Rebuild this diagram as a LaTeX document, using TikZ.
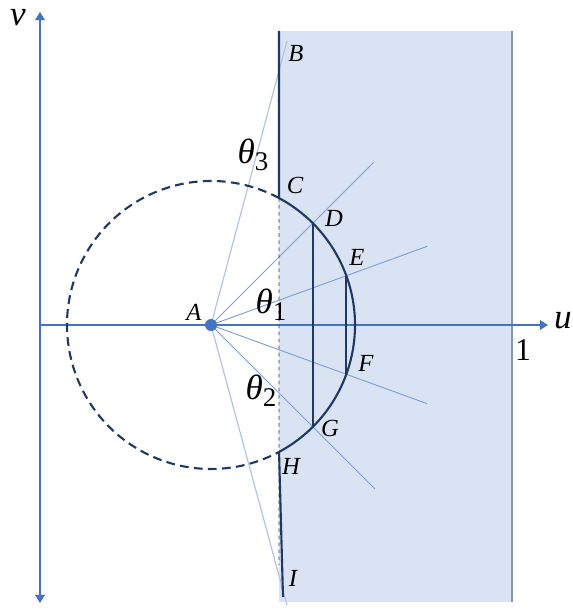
\documentclass[tikz,border=0pt]{standalone}
\usepackage{fontspec}
\setmainfont{Liberation Serif}
\usetikzlibrary{calc, positioning, arrows.meta}

\definecolor{axisblue}{HTML}{4472C4}
\definecolor{navy}{HTML}{1F3864}
\definecolor{raymid}{HTML}{7F9FD8}
\definecolor{raypale}{HTML}{AFC3E6}
\definecolor{stripblue}{HTML}{DAE3F3}
\definecolor{edgegray}{HTML}{8497B0}

\newcommand{\thlab}[1]{{\itshape θ}\raisebox{-0.45ex}{\fontsize{23}{23}\selectfont #1}}

\begin{document}
\begin{tikzpicture}[x=0.03cm, y=0.03cm,
            axis/.style={axisblue, line width=0.9pt},
            tip/.style={-{Triangle[width=8.5pt, length=7pt]}},
            ray/.style={raymid, line width=0.8pt},
            pale/.style={raypale, line width=1pt},
            bound/.style={navy, line width=1.8pt},
            lbl/.style={font=\fontsize{21}{21}\selectfont\itshape, inner sep=1pt},
            ang/.style={font=\fontsize{30}{30}\selectfont, inner sep=1pt},
            dot/.style={circle, fill=axisblue, inner sep=0pt, minimum size=0.36cm}
        ]
        \useasboundingbox (-211,-284) rectangle (362,325);

        % shaded strip 0 < u < 1
        \fill[stripblue] (68,-277) rectangle (301,294);
        \coordinate (stripT) at (301,294);
        \coordinate (stripB) at (301,-277);
        \draw[edgegray, line width=0.9pt] (stripB) -- (stripT);

        % axes
        \coordinate (O) at (-171,0);
        \coordinate (uend) at (337,0);
        \coordinate (vtop) at (-171,313);
        \coordinate (vbot) at (-171,-278);
        \draw[axis, {Triangle[width=8.5pt, length=7pt]}-{Triangle[width=8.5pt, length=7pt]}] (vbot) -- (vtop);
        \draw[axis, tip] (O) -- (uend);
        \node[ang, font=\fontsize{30}{30}\selectfont\itshape, inner sep=0pt] (vlab) at (-193,307) {v};
        \node[ang, font=\fontsize{30}{30}\selectfont\itshape] (ulab) at (352,4) {u};
        \node[ang, font=\fontsize{27}{27}\selectfont] (one) at (312,-25) {1};

        % points on the circle
        \coordinate (C) at (61.8:144);
        \coordinate (D) at (45:144);
        \coordinate (E) at (20:144);
        \coordinate (F) at (-20:144);
        \coordinate (G) at (-45:144);
        \coordinate (H) at (-61.8:144);
        \coordinate (B) at (68,294);
        \coordinate (I) at (72,-272);
        \coordinate (dashEnd) at (68,-240);

        % rays from A
        \coordinate (tB) at (76,284);
        \coordinate (tI) at (76,-280);
        \coordinate (tD) at (45:230);
        \coordinate (tE) at (20:230);
        \coordinate (tF) at (-20:230);
        \coordinate (tG) at (-45:232);
        \draw[pale] (0,0) -- (tB);
        \draw[pale] (0,0) -- (tI);
        \foreach \t in {tD, tE, tF, tG}
            \draw[ray] (0,0) -- (\t);

        % circle: dashed outside, solid inside the strip
        \draw[navy, line width=1.8pt, dash pattern=on 7.5pt off 4.5pt] (C) arc[start angle=61.8, end angle=298.2, radius=144];
        \draw[bound] (H) arc[start angle=-61.8, end angle=61.8, radius=144];
        \draw[navy, line width=0.5pt, dashed] (C) -- (dashEnd);

        % boundary pieces and chords
        \draw[bound] (B) -- (C);
        \draw[bound] (H) -- (I);
        \draw[bound] (D) -- (G);
        \draw[bound] (E) -- (F);

        \node[dot] (A) at (0,0) {};

        % labels
        \node[lbl] (lA) at (-17,13) {A};
        \node[lbl] (lB) at (85,272) {B};
        \node[lbl] (lC) at (84,140) {C};
        \node[lbl] (lD) at (123,107) {D};
        \node[lbl] (lE) at (146,68) {E};
        \node[lbl] (lF) at (155,-38) {F};
        \node[lbl] (lG) at (119,-103) {G};
        \node[lbl] (lH) at (80,-141) {H};
        \node[lbl] (lI) at (82,-253) {I};
        \node[ang] (th1) at (60,20) {\thlab{1}};
        \node[ang] (th2) at (50,-66) {\thlab{2}};
        \node[ang] (th3) at (42,170) {\thlab{3}};
\end{tikzpicture}
\end{document}
